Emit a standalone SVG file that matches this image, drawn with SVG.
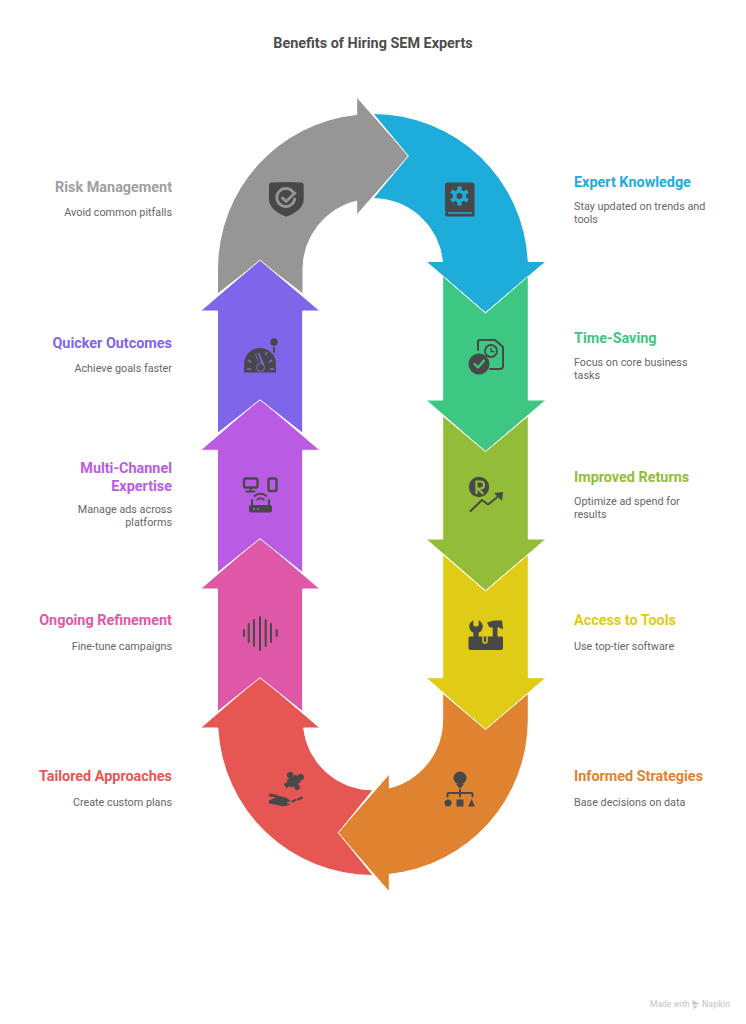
<svg xmlns="http://www.w3.org/2000/svg" width="746" height="1024" viewBox="0 0 746 1024">
<style>
text{font-family:Roboto,"Liberation Sans",sans-serif}
.title{font-size:14.400px;font-weight:700;fill:#4d4d4d;text-anchor:middle}
.lab{font-size:14.400px;font-weight:700}
.desc{font-size:10.800px;fill:#666666}
.l{text-anchor:end}
.seg{stroke:#fff;stroke-width:1;stroke-linejoin:miter}
.i{fill:#484848}
.s{fill:none;stroke:#484848;stroke-width:2;stroke-linecap:round;stroke-linejoin:round}
</style>
<rect width="746" height="1024" fill="#fff"/>
<text class="title" x="373" y="48.300">Benefits of Hiring SEM Experts</text>
<g id="connectors"/>
<g id="node-risk">
<path class="seg" fill="#969696" d="M217.500 294V269A155.500 155.500 0 0 1 356.700 114.400V97L408.800 156L356.700 215V201A70 70 0 0 0 303 269V294L260 261Z"/>
<path class="i" d="M271 182.500Q286 181.500 301.700 182.500Q303.700 182.500 303.700 185V199Q303.700 210 286.300 216.700Q269 210 269 199V185Q269 182.500 271 182.500Z"/>
<path d="M293 192A9 9 0 1 0 294.700 199" fill="none" stroke="#969696" stroke-width="2.800" stroke-linecap="round"/>
<path d="M282.500 198L286 201.500L295 193" fill="none" stroke="#969696" stroke-width="2.800" stroke-linecap="round" stroke-linejoin="round"/>
<text class="lab l" x="172" y="191.500" fill="#a0a0a0">Risk Management</text>
<text class="desc l" x="172" y="215.500">Avoid common pitfalls</text>
</g>
<g id="node-expert">
<path class="seg" fill="#1eacdb" d="M373 113.500A155.500 155.500 0 0 1 528.300 261.500H546L485.500 312.800L426 261.500H442.500A69.700 69.700 0 0 0 373 198.500L408.300 156Z"/>
<path class="i" d="M447 182.500H472Q474.500 182.500 474.500 185V212H447Q445 212 445 209V185Q445 182.500 447 182.500Z"/>
<path class="i" d="M446 211H474.500V216.500H447Q445 216.500 445 214Z"/>
<g stroke="#1eacdb" stroke-width="4"><path d="M459.500 186.500V205.500M451.300 191.300L467.700 200.700M451.300 200.700L467.700 191.300"/></g>
<circle cx="459.500" cy="196" r="6.500" fill="#1eacdb"/>
<circle cx="459.500" cy="196" r="3" fill="#484848"/>
<path d="M448 213H472" stroke="#1eacdb" stroke-width="1.500"/>
<text class="lab" x="574" y="187.300" fill="#1eacdb">Expert Knowledge</text>
<text class="desc" x="574" y="210">Stay updated on trends and</text>
<text class="desc" x="574" y="223">tools</text>
</g>
<g id="node-time">
<path class="seg" fill="#3ec683" d="M442.700 276L485.500 313L528.300 276V400H546L485.500 451.800L426 400H442.700Z"/>
<path class="s" d="M478 350V342Q478 340 480 340H495L503 347V366Q503 369 500 369H490" stroke-width="2.200"/>
<circle cx="491" cy="351" r="6" fill="none" stroke="#484848" stroke-width="1.800"/>
<path d="M491 347.500V351.500H494.500" fill="none" stroke="#484848" stroke-width="1.300"/>
<circle class="i" cx="479" cy="364" r="10.500"/>
<path d="M474.500 364L478 367.500L484 360.500" fill="none" stroke="#3ec683" stroke-width="2.200" stroke-linecap="round" stroke-linejoin="round"/>
<text class="lab" x="574" y="343.300" fill="#3ec683">Time-Saving</text>
<text class="desc" x="574" y="366">Focus on core business</text>
<text class="desc" x="574" y="379">tasks</text>
</g>
<g id="node-returns">
<path class="seg" fill="#93bd38" d="M442.700 415.700L485.500 451.500L528.300 415.700V539H546L485.500 590.800L426 539H442.700Z"/>
<circle class="i" cx="479" cy="487" r="10.200"/>
<path d="M476.500 494V481.500H480.500Q484 481.500 484 485T480.500 488.500H477.500L483.500 494" fill="none" stroke="#93bd38" stroke-width="2.200"/>
<path class="s" d="M470.500 511L482 500L488 504.500L500 495" stroke-width="2.400"/>
<path class="i" d="M494 493L503 492L502 501Z"/>
<text class="lab" x="574" y="482" fill="#93bd38">Improved Returns</text>
<text class="desc" x="574" y="505">Optimize ad spend for</text>
<text class="desc" x="574" y="518">results</text>
</g>
<g id="node-tools">
<path class="seg" fill="#e0cc14" d="M442.700 554.300L485.500 591L528.300 554.300V677.700H546L485.500 729.800L426 677.700H442.700Z"/>
<path class="i" d="M470 636.500H501.500Q503 636.500 503 638V648Q503 650 501 650H470.500Q468.500 650 468.500 648V638Q468.500 636.500 470 636.500Z"/>
<path d="M483 636.500V641A2 2 0 0 0 487 641V636.500" fill="none" stroke="#e0cc14" stroke-width="1.500"/>
<circle class="i" cx="476" cy="626.500" r="6.800"/>
<rect x="473.300" y="618" width="5.400" height="8.500" rx="2" fill="#e0cc14"/>
<rect class="i" x="473.300" y="630" width="5.400" height="7"/>
<path class="i" d="M487 622.500L494 620.500H502L503 629.500L499 627.500H497.500V637H492.700V627.500H489.500Z"/>
<text class="lab" x="574" y="625" fill="#e0cc14">Access to Tools</text>
<text class="desc" x="574" y="650">Use top-tier software</text>
</g>
<g id="node-strategies">
<path class="seg" fill="#df8330" d="M442.700 693.300L485.500 729.500L528.300 693.300V720A155.500 155.500 0 0 1 389.300 874.400V892L337.800 832.700L389.300 774V788A69.700 69.700 0 0 0 442.700 720Z"/>
<circle class="i" cx="460" cy="778" r="6.500"/>
<path class="i" d="M456 784H464L460 789Z"/>
<path class="s" d="M447.500 796.500V794Q447.500 793 449 793H471Q472.500 793 472.500 794V796.500M460 790V796.500" stroke-width="1.700"/>
<circle class="i" cx="448" cy="803" r="3.500"/>
<rect class="i" x="456.500" y="799.500" width="7" height="7"/>
<path class="i" d="M471.700 799L475 806.500H468Z"/>
<text class="lab" x="574" y="781" fill="#df8330">Informed Strategies</text>
<text class="desc" x="574" y="806">Base decisions on data</text>
</g>
<g id="node-tailored">
<path class="seg" fill="#e65753" d="M373 875.500A155.500 155.500 0 0 1 217.800 728H200.500L260 676.700L320 728H303.600A69.700 69.700 0 0 0 373 790L338.300 832.700Z"/>
<g class="i" transform="rotate(-30 293 781)">
<rect x="288" y="777" width="11" height="9"/>
<circle cx="293.500" cy="774.500" r="3.300"/>
<circle cx="301.500" cy="781.500" r="3.300"/>
<rect x="291" y="785" width="5" height="6"/>
<rect x="283.500" y="779" width="5" height="5"/>
</g>
<path class="i" d="M269.500 793.500L278 795L277.500 797.500L269 796.500ZM269 800.500L279.500 795.800L287 798L291 801.500L286 802L290.500 804.500L283 806.500L275 804.500L269 803.500Z"/>
<path class="s" d="M292.500 801.500L295.500 800M298 799.500L302 797.500" stroke-width="2.400"/>
<text class="lab l" x="172" y="781" fill="#e65753">Tailored Approaches</text>
<text class="desc l" x="172" y="806">Create custom plans</text>
</g>
<g id="node-refinement">
<path class="seg" fill="#df58a8" d="M217.500 711.700L260 677.700L302.700 711.700V589H320L260 537.700L200.500 589H217.500Z"/>
<path class="s" d="M244 630V636M248.700 624V642M254 620V646M260 617V650M265.700 620V646M271 624V642M276.700 630V636" stroke-width="2.500"/>
<text class="lab l" x="172" y="625" fill="#df58a8">Ongoing Refinement</text>
<text class="desc l" x="172" y="650">Fine-tune campaigns</text>
</g>
<g id="node-multichannel">
<path class="seg" fill="#b95ce3" d="M217.500 572.700L260 538.700L302.700 572.700V450.300H320L260 399L200.500 450.300H217.500Z"/>
<rect x="244" y="478.500" width="13.500" height="9" rx="1.500" fill="none" stroke="#484848" stroke-width="2.300"/>
<path class="s" d="M250.500 488V491M246.500 491.500H254.500" stroke-width="1.800"/>
<rect x="268.500" y="478.500" width="8" height="12.500" rx="1.500" fill="none" stroke="#484848" stroke-width="2.300"/>
<path class="s" d="M254.500 496Q260.500 491.500 266.500 496M257.500 499.500Q260.500 497 263.500 499.500" stroke-width="1.700"/>
<rect class="i" x="249" y="505" width="23" height="7.500" rx="2"/>
<path class="s" d="M252 505V500M269 505V500" stroke-width="1.700"/>
<circle cx="254" cy="509" r="1" fill="#b95ce3"/><circle cx="258" cy="509" r="1" fill="#b95ce3"/>
<text class="lab l" x="172" y="473.300" fill="#b95ce3">Multi-Channel</text>
<text class="lab l" x="172" y="491" fill="#b95ce3">Expertise</text>
<text class="desc l" x="172" y="513">Manage ads across</text>
<text class="desc l" x="172" y="526">platforms</text>
</g>
<g id="node-quicker">
<path class="seg" fill="#7f65e9" d="M217.500 433.300L260 399.800L302.700 433.300V311H320L260 260L200.500 311H217.500Z"/>
<path class="i" d="M244 372.500V364A16 16 0 0 1 276 364V372.500Z"/>
<path d="M257 353.500L262.500 366" fill="none" stroke="#7f65e9" stroke-width="4.500"/>
<path d="M257 353.500L261 366" fill="none" stroke="#484848" stroke-width="2.200"/>
<circle cx="260.500" cy="367.500" r="4" fill="#484848" stroke="#7f65e9" stroke-width="1"/>
<path d="M248 360L251 362M267 352L265.500 355M272 360L269 362M247 369H251M270 369H274" stroke="#7f65e9" stroke-width="1.600" fill="none"/>
<circle class="i" cx="274" cy="342" r="3.700"/>
<path class="s" d="M274 348V352" stroke-width="1.800"/>
<text class="lab l" x="172" y="347.500" fill="#7f65e9">Quicker Outcomes</text>
<text class="desc l" x="172" y="372">Achieve goals faster</text>
</g>
<g id="watermark">
<text x="650" y="1007" font-size="8.500" fill="#c4c4c4">Made with</text>
<path d="M692.500 1000L699.500 1004L692.500 1005ZM694 1005.500L698 1006L693 1009.500Z" fill="#c4c4c4"/>
<text x="702" y="1007" font-size="8.500" fill="#c0c0c0" letter-spacing=".3">Napkin</text>
</g>
</svg>
